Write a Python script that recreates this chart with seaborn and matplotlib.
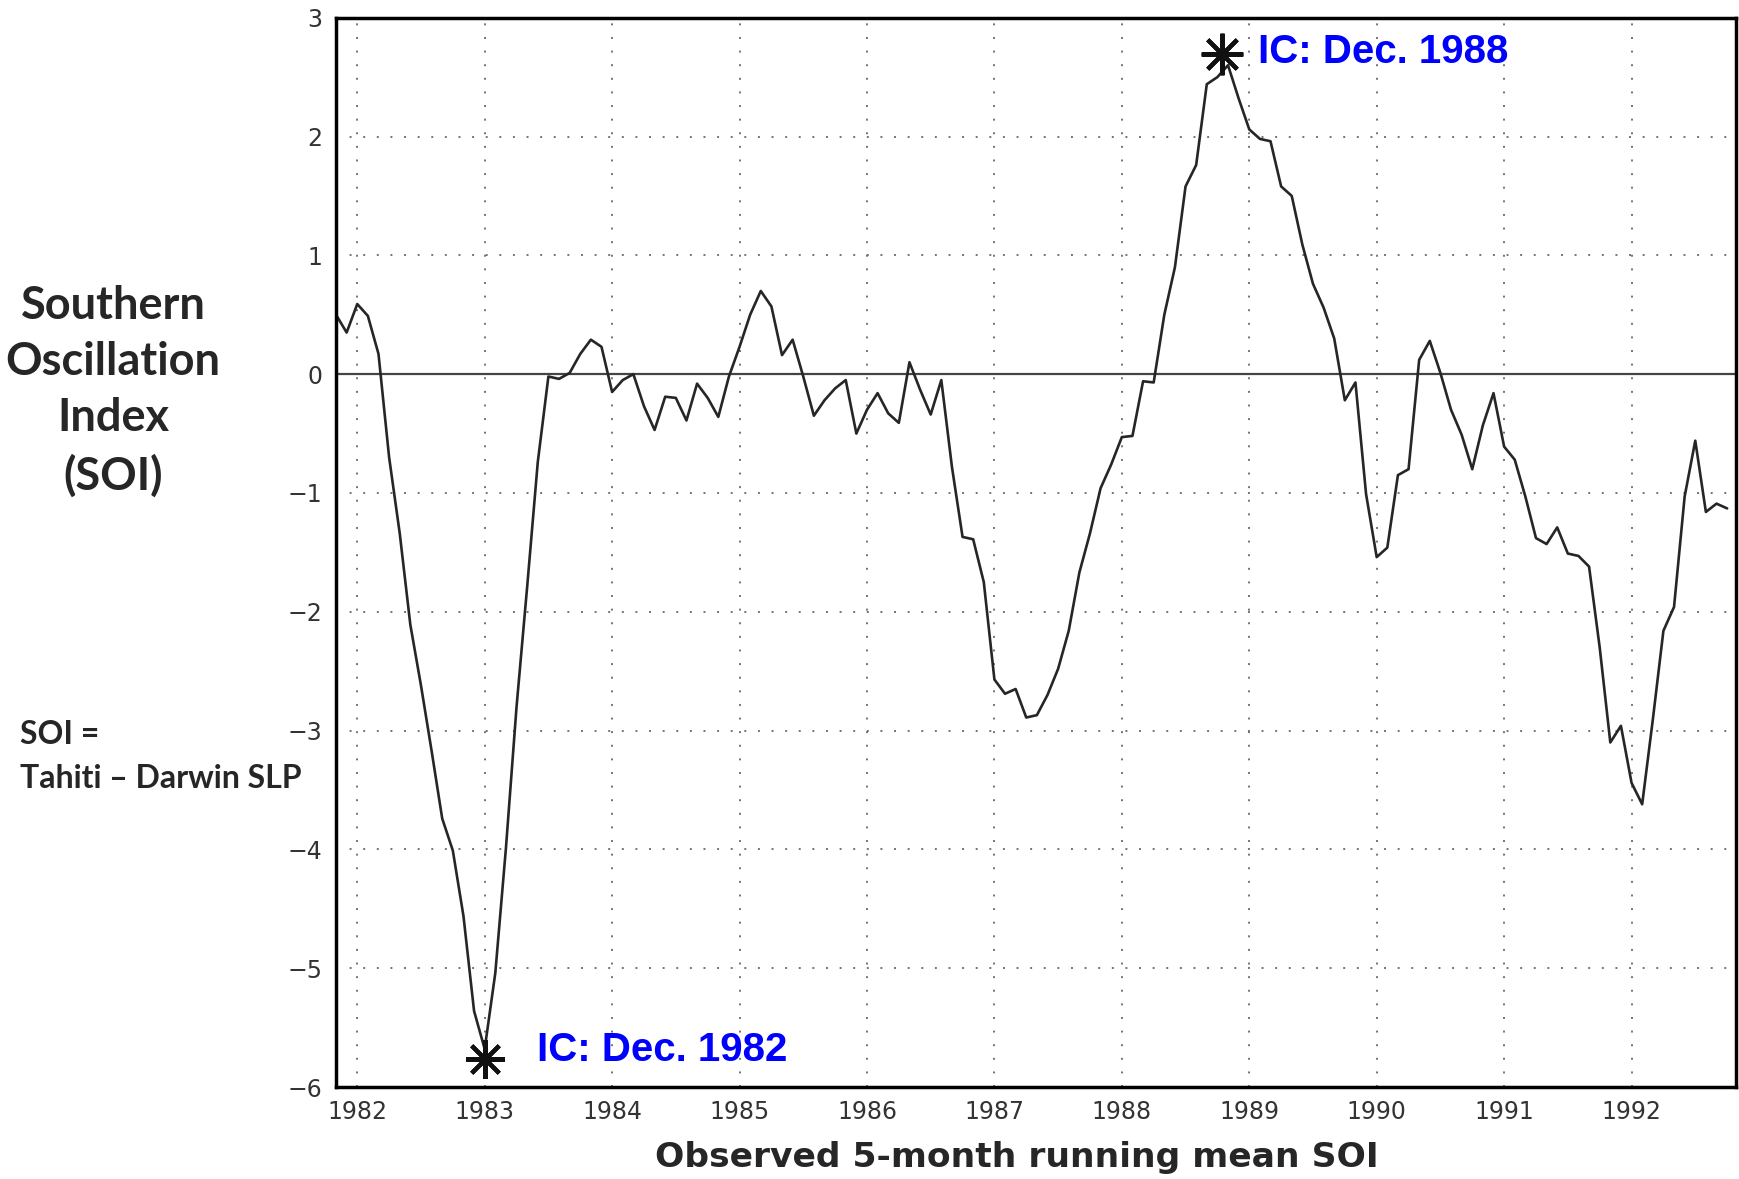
import numpy as np
import pandas as pd
import matplotlib
matplotlib.use('Agg')
import matplotlib.pyplot as plt
import matplotlib.transforms as mtransforms
import seaborn as sns

# monthly 5-month running mean SOI, Oct 1981 .. Sep 1992
soi = [0.50, 0.35, 0.59, 0.49, 0.17, -0.70, -1.34, -2.11, -2.62, -3.17,
       -3.74, -4.01, -4.56, -5.36, -5.68, -5.04, -3.99, -2.80, -1.79, -0.74,
       -0.02, -0.04, 0.01, 0.17, 0.29, 0.23, -0.15, -0.05, 0.00, -0.27,
       -0.47, -0.19, -0.20, -0.39, -0.08, -0.20, -0.36, -0.02, 0.23, 0.50,
       0.70, 0.57, 0.16, 0.29, -0.02, -0.35, -0.22, -0.12, -0.05, -0.50,
       -0.30, -0.16, -0.33, -0.41, 0.10, -0.13, -0.34, -0.05, -0.78, -1.37,
       -1.39, -1.75, -2.57, -2.69, -2.65, -2.89, -2.87, -2.70, -2.48, -2.16,
       -1.67, -1.34, -0.96, -0.76, -0.53, -0.52, -0.06, -0.07, 0.50, 0.90,
       1.58, 1.76, 2.44, 2.50, 2.60, 2.32, 2.06, 1.98, 1.96, 1.58,
       1.50, 1.09, 0.76, 0.56, 0.30, -0.22, -0.07, -1.01, -1.54, -1.46,
       -0.85, -0.80, 0.12, 0.28, 0.01, -0.30, -0.51, -0.80, -0.43, -0.16,
       -0.61, -0.72, -1.03, -1.38, -1.43, -1.29, -1.51, -1.53, -1.62, -2.30,
       -3.10, -2.96, -3.44, -3.62, -2.91, -2.16, -1.96, -1.03, -0.56, -1.16,
       -1.09, -1.13]
first_month = '1981-10-31'
year_ticks = list(range(1982, 1993))
soi_ticks = list(range(-6, 4))
ic_labels = ['IC: Dec. 1982', 'IC: Dec. 1988']

dates = pd.date_range(first_month, periods=len(soi), freq='ME')
df = pd.DataFrame({'t': dates.year + dates.month / 12.0, 'soi': soi})

sns.set_style('white')
plt.rcParams['font.family'] = ['DejaVu Sans']

fig = plt.figure(figsize=(17.39, 11.79), dpi=100)
ax = fig.add_axes([0.1932, 0.078, 0.8051, 0.907])

ax.grid(True, linestyle=(0, (1, 6)), linewidth=1.4, color='0.45', zorder=0)
ax.axhline(0, color='#444444', lw=1.6, zorder=1)
sns.lineplot(data=df, x='t', y='soi', ax=ax, color='#262626', lw=1.9, zorder=2)

# initial-condition asterisks at the min / max of the series
imin = int(np.argmin(soi))
imax = int(np.argmax(soi))
star_lo = mtransforms.offset_copy(ax.transData, fig=fig, x=0, y=-7, units='points')
star_hi = mtransforms.offset_copy(ax.transData, fig=fig, x=-4, y=8, units='points')
ax.plot(df.t[imin], df.soi[imin], marker=(8, 2, 0), ms=28, mew=3, color='#111111',
        transform=star_lo, zorder=3)
ax.plot(df.t[imax], df.soi[imax], marker=(8, 2, 0), ms=30, mew=3, color='#111111',
        transform=star_hi, zorder=3)

ax.text(1983.41, -5.69, ic_labels[0], color='blue', fontsize=29, fontweight='bold',
        family='Liberation Sans', va='center', ha='left')
ax.text(1989.07, 2.71, ic_labels[1], color='blue', fontsize=29, fontweight='bold',
        family='Liberation Sans', va='center', ha='left')

ax.set_xlim(1981.833, 1992.82)
ax.set_ylim(-6, 3)
ax.set_xticks(year_ticks)
ax.set_yticks(soi_ticks)
ax.set_xlabel('')
ax.set_ylabel('')
ax.tick_params(axis='both', labelsize=17, colors='#333333', direction='out',
               length=7, width=1.2)
ax.tick_params(axis='x', pad=2)
ax.tick_params(axis='y', pad=3)
for s in ax.spines.values():
    s.set_visible(True)
    s.set_color('black')
    s.set_linewidth(2.5)

fig.text(113 / 1739, 1 - 391 / 1179, 'Southern\nOscillation\nIndex\n(SOI)',
         ha='center', va='center', fontsize=32.5, fontweight='bold', family='Lato',
         linespacing=1.42)
fig.text(20 / 1739, 1 - 735 / 1179, 'SOI =',
         ha='left', va='center', fontsize=23, fontweight='bold', family='Lato')
fig.text(20 / 1739, 1 - 779 / 1179, 'Tahiti \u2013 Darwin SLP',
         ha='left', va='center', fontsize=23, fontweight='bold', family='Lato')
fig.text(1017 / 1739, 1 - 1157 / 1179, 'Observed 5-month running mean SOI',
         ha='center', va='center', fontsize=24.8, fontweight='bold',
         family='DejaVu Sans')

fig.savefig('out.png', dpi=100)
